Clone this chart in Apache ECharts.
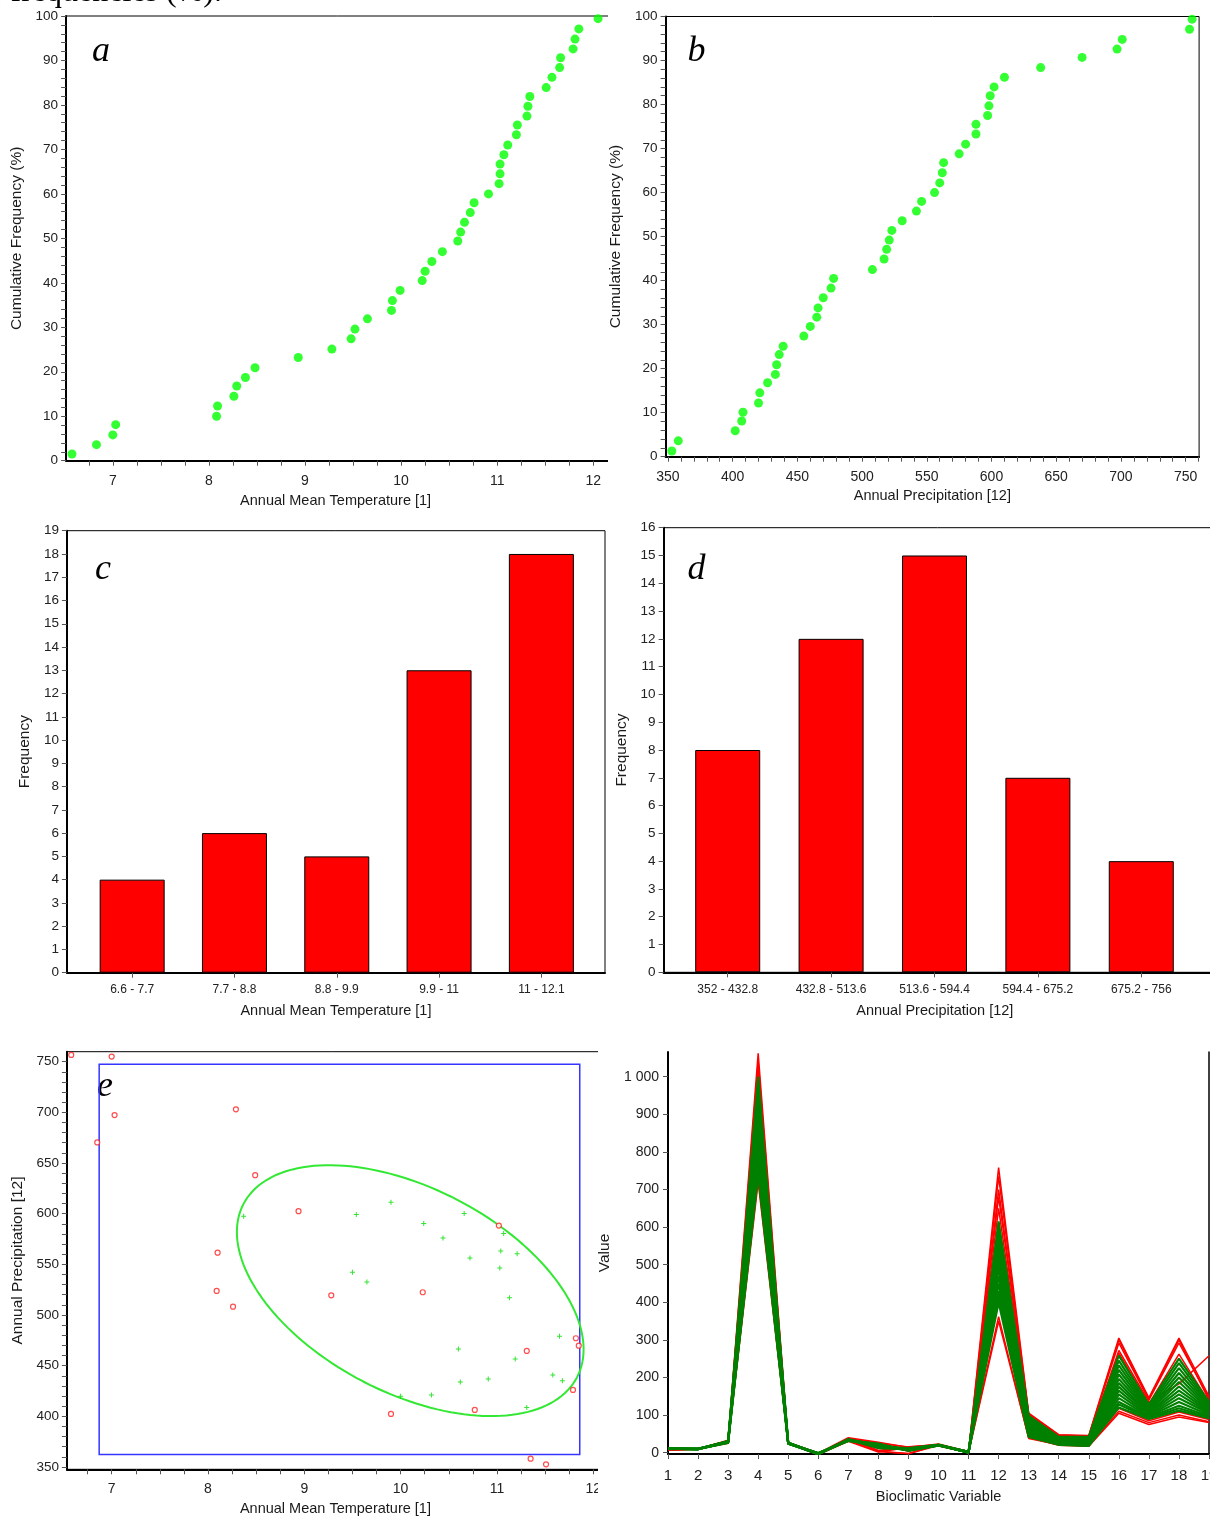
<!DOCTYPE html>
<html><head><meta charset="utf-8">
<script src="https://cdn.jsdelivr.net/npm/echarts@6/dist/echarts.min.js"></script>
<style>
html,body{margin:0;padding:0;background:#fff;}
#wrap{position:relative;width:1210px;height:1519px;overflow:hidden;background:#fff;}
.p{position:absolute;overflow:hidden;}
</style></head><body>
<div id="wrap">
<div id="pa" class="p" style="left:0;top:0;width:608px;height:512px"></div>
<div id="pb" class="p" style="left:608px;top:0;width:602px;height:512px"></div>
<div id="pc" class="p" style="left:0;top:512px;width:608px;height:510px"></div>
<div id="pd" class="p" style="left:608px;top:512px;width:602px;height:510px"></div>
<div id="pe" class="p" style="left:0;top:1022px;width:598px;height:497px"></div>
<div id="pf" class="p" style="left:598px;top:1022px;width:612px;height:497px"></div>
</div>
<script>
// ---------------- DATA ----------------
// (a) cumulative frequency of Annual Mean Temperature
const tempCum = [6.575,6.83,7.0,7.03,8.08,8.09,8.26,8.29,8.38,8.48,8.93,9.28,9.48,9.52,9.65,9.9,9.91,9.99,10.22,10.25,10.32,10.43,10.59,10.62,10.66,10.72,10.76,10.91,11.02,11.03,11.03,11.07,11.11,11.2,11.21,11.31,11.32,11.34,11.51,11.57,11.65,11.66,11.79,11.81,11.85,12.05];
const cumFreqA = [1.5,3.6,5.8,8.1,10.0,12.3,14.5,16.8,18.7,20.9,23.2,25.1,27.4,29.6,31.9,33.8,36.0,38.3,40.5,42.6,44.8,47.0,49.4,51.4,53.6,55.8,58.0,60.0,62.3,64.5,66.7,68.8,71.0,73.3,75.5,77.5,79.7,81.9,83.9,86.2,88.4,90.6,92.6,94.8,97.1,99.4];
// (b) cumulative frequency of Annual Precipitation
const precipCum = [353,358,402,407,408,420,421,427,433,434,436,439,455,460,465,466,470,476,478,508,517,519,521,523,531,542,546,556,560,562,563,575,580,588,588,597,598,599,602,610,638,670,697,701,753,755];
const cumFreqB = [1.3,3.6,5.9,8.1,10.1,12.2,14.5,16.8,18.7,20.9,23.2,25.1,27.4,29.6,31.7,33.8,36.1,38.3,40.5,42.5,44.9,47.1,49.2,51.4,53.6,55.8,58.0,60.0,62.2,64.5,66.8,68.8,71.0,73.3,75.5,77.5,79.7,82.0,84.0,86.2,88.4,90.7,92.6,94.8,97.1,99.4];
// (c) histogram temperature
const tempBins = ['6.6 - 7.7','7.7 - 8.8','8.8 - 9.9','9.9 - 11','11 - 12.1'];
const tempCounts = [4,6,5,13,18];
// (d) histogram precipitation
const precipBins = ['352 - 432.8','432.8 - 513.6','513.6 - 594.4','594.4 - 675.2','675.2 - 756'];
const precipCounts = [8,12,15,7,4];
// (e) scatter: outliers (red) and inliers (green)
const outTemp   = [6.58,7.00,7.03,6.85,8.29,8.49,8.94,8.10,11.02,8.09,8.26,9.28,10.23,9.90,10.77,11.31,11.82,11.85,11.79,11.35,11.51];
const outPrecip = [756.6,755,697.3,670.3,702.9,638,602.4,561.5,588.2,523.7,508.2,519.4,522.4,402.3,406.3,464.5,477,469.7,426,358.2,352.6];
const inTemp   = [8.37,9.54,9.90,10.24,10.44,10.66,11.07,11.04,11.21,10.72,11.03,9.50,9.65,11.13,10.60,11.65,11.19,10.62,10.91,11.58,11.68,10.00,10.32,11.31];
const inPrecip = [597.4,599.1,611.3,590.2,576,600.1,580.3,563.2,560.5,556.3,546.4,542.1,532.6,517.1,466.4,479,456.6,433.9,436.8,440.8,435.2,419.7,421,408.6];
// ellipse: [centreTemp, centrePrecip, halfRangeTemp, halfRangePrecip, phase(rad)]
const ellipseParams = [10.1, 524, 1.8, 123.8, 2.057];
// envelope box: [tempMin, precipMax, tempMax, precipMin]
const envelopeBox = [6.87, 747.4, 11.86, 362.2];
// (f) profiles over 19 bioclimatic variables
const bioVars = [1,2,3,4,5,6,7,8,9,10,11,12,13,14,15,16,17,18,19];
const greenProfiles = [
 [9.5,10,28,1000,26,-3,35,20,8,20,1,615,98,42,42,258,128,250,135],
 [10.1,10,30,970,26,-2,34,22,6,21,2,595,94,40,40,245,122,238,130],
 [10.5,10,27,945,25,-4,33,18,10,20,1,580,90,38,38,232,118,225,126],
 [11.0,9,29,920,24,-1,32,24,5,19,2,565,85,37,36,220,114,212,122],
 [10.8,10,26,900,26,-3,36,15,12,21,0,550,80,35,34,208,110,200,118],
 [11.2,9,31,880,25,-2,33,20,8,20,1,535,76,33,32,196,108,188,115],
 [9.9,10,28,860,24,-4,35,12,9,19,2,520,72,31,30,185,105,176,112],
 [11.3,10,30,840,25,-1,31,22,6,20,1,505,68,30,28,175,103,165,110],
 [11.6,9,27,820,26,-3,34,16,10,21,0,490,64,28,26,165,100,155,107],
 [10.3,10,29,800,24,-2,33,18,8,20,2,470,60,27,24,155,98,145,104],
 [11.7,10,30,785,25,-3,32,20,7,19,1,450,55,25,22,145,96,135,100],
 [10.6,9,28,770,25,-4,34,14,11,20,1,430,50,24,20,135,94,125,97],
 [11.1,10,27,755,24,-2,33,19,9,20,1,415,46,22,19,128,92,118,94],
 [10.0,10,29,740,25,-3,34,17,7,21,2,400,42,21,18,120,90,112,92]
];
const redProfiles = [
 [8,10,32,1062,27,-4,38,25,15,22,2,758,105,48,46,305,146,305,150],
 [7,10,30,1040,25,-2,36,5,16,20,1,735,102,46,44,292,140,292,145],
 [9,10,25,1015,26,-3,37,3,-3,21,3,700,100,45,40,272,135,183,258],
 [7,10,28,720,24,-5,30,2,14,18,0,350,40,20,17,105,75,95,80],
 [7,9,29,735,25,-4,33,4,-2,19,1,362,38,22,18,110,80,100,82],
 [12,10,33,1000,27,-1,40,28,14,23,3,680,103,47,44,300,143,300,140],
 [7,10,31,985,26,-3,37,6,12,20,1,650,92,40,38,265,130,262,135],
 [11.8,10,27,775,24,-5,32,24,4,21,2,425,45,22,20,118,85,108,88]
];
// tick labels
const tempTickLabels = [7,8,9,10,11,12];
const cumTickLabels = [0,10,20,30,40,50,60,70,80,90,100];
const precipTickLabels = [350,400,450,500,550,600,650,700,750];
const countTicksC = [0,1,2,3,4,5,6,7,8,9,10,11,12,13,14,15,16,17,18,19];
const countTicksD = [0,1,2,3,4,5,6,7,8,9,10,11,12,13,14,15,16];
const valueTickLabels = [0,100,200,300,400,500,600,700,800,900,1000];

// ---------------- HELPERS ----------------
const FONT = '"Liberation Sans", Arial, sans-serif';
const SERIF = '"Liberation Serif", "Times New Roman", serif';
const LBL = '#222';
function seq(a,b,s){const r=[];for(let v=a;v<=b+1e-9;v+=s)r.push(Math.round(v*1000)/1000);return r;}
function axis(o){
  return {
    type:'value', min:o.min, max:o.max, position:o.pos,
    name:o.name||'', nameLocation:'middle', nameGap:o.nameGap||30, nameRotate:o.rot||0,
    nameTextStyle:{fontFamily:FONT,fontSize:o.nameSize||14.5,color:'#1a1a1a',padding:o.namePad||0},
    axisLine:{show:true,onZero:false,lineStyle:{color:'#000',width:2}},
    axisTick:{show:true,length:o.tickLen||5,inside:false,customValues:o.ticks,lineStyle:{color:'#555',width:1}},
    axisLabel:{show:true,customValues:o.labels,formatter:o.fmt||(v=>String(v)),margin:o.margin||8,
      fontFamily:FONT,fontSize:o.fs||14,color:LBL,hideOverlap:false},
    splitLine:{show:false}, minorTick:{show:false}, minorSplitLine:{show:false}
  };
}
function grid(l,t,w,h,border){
  return {left:l,top:t,width:w,height:h,show:!!border,borderColor:'#000',borderWidth:1,
          backgroundColor:'transparent',containLabel:false,outerBoundsMode:'none'};
}
function letter(ch,x,baseline){
  return {type:'text',silent:true,style:{text:ch,x:x,y:baseline-12.6,align:'center',verticalAlign:'middle',
    font:'italic 36px '+SERIF,fill:'#000'}};
}
function make(id,opt){
  const c=echarts.init(document.getElementById(id),null,{renderer:'canvas'});
  opt.animation=false; c.setOption(opt);
}

// ---------------- (a) ----------------
make('pa',{
  grid:grid(66.1,16,546,444.7,true),
  xAxis:axis({min:6.514,max:12.196,pos:'bottom',ticks:seq(6.75,12,0.25),labels:tempTickLabels,
    name:'Annual Mean Temperature [1]',nameGap:33,namePad:[0,7,0,0],margin:13}),
  yAxis:axis({min:0,max:100,pos:'left',ticks:seq(0,100,2),labels:cumTickLabels,fs:13.5,
    name:'Cumulative Frequency (%)',rot:90,nameGap:37.6,nameSize:15.5,margin:8}),
  series:[{type:'scatter',data:tempCum.map((x,i)=>[x,cumFreqA[i]]),symbol:'circle',symbolSize:9,
    itemStyle:{color:'#00ff00'},silent:true}],
  graphic:[letter('a',101,64),
    {type:'text',silent:true,style:{text:'cumulative frequencies (%).',x:222,y:-7,align:'right',verticalAlign:'middle',
      font:'32px '+SERIF,fill:'#000'}}]
});

// ---------------- (b) ----------------
make('pb',{
  grid:grid(57.6,16.5,533.5,440.2,true),
  xAxis:axis({min:348.2,max:760.4,pos:'bottom',ticks:seq(350,760,10),labels:precipTickLabels,
    name:'Annual Precipitation [12]',nameGap:32,margin:13}),
  yAxis:axis({min:0,max:100,pos:'left',ticks:seq(0,100,2),labels:cumTickLabels,fs:13.5,
    name:'Cumulative Frequency (%)',rot:90,nameGap:37,nameSize:15.5,margin:8}),
  series:[{type:'scatter',data:precipCum.map((x,i)=>[x,cumFreqB[i]]),symbol:'circle',symbolSize:9,
    itemStyle:{color:'#00ff00'},silent:true}],
  graphic:[letter('b',696.5-608,64)]
});

// ---------------- (c) ----------------
make('pc',{
  grid:grid(66.9,18.7,538.1,442,true),
  xAxis:axis({min:0.362,max:5.622,pos:'bottom',ticks:[1,2,3,4,5],labels:[1,2,3,4,5],
    fmt:v=>tempBins[Math.round(v)-1]||'',fs:12,margin:11,
    name:'Annual Mean Temperature [1]',nameGap:30.5}),
  yAxis:axis({min:0,max:19,pos:'left',ticks:countTicksC,labels:countTicksC,fs:13.5,margin:8,
    name:'Frequency',rot:90,nameGap:27.5,nameSize:15.5}),
  series:[{type:'bar',data:tempCounts.map((v,i)=>[i+1,v]),barWidth:65,
    itemStyle:{color:'#ff0000',borderColor:'#000',borderWidth:1},silent:true}],
  graphic:[letter('c',103,581.7-512)]
});

// ---------------- (d) ----------------
make('pd',{
  grid:grid(55.6,15.7,548.4,444.6,true),
  xAxis:axis({min:0.38,max:5.684,pos:'bottom',ticks:[1,2,3,4,5],labels:[1,2,3,4,5],
    fmt:v=>precipBins[Math.round(v)-1]||'',fs:12,margin:11,
    name:'Annual Precipitation [12]',nameGap:30.9,namePad:[0,6,0,0]}),
  yAxis:axis({min:0,max:16,pos:'left',ticks:countTicksD,labels:countTicksD,fs:13.5,margin:8,
    name:'Frequency',rot:90,nameGap:29.5,nameSize:15.5}),
  series:[{type:'bar',data:precipCounts.map((v,i)=>[i+1,v]),barWidth:65,
    itemStyle:{color:'#ff0000',borderColor:'#000',borderWidth:1},silent:true}],
  graphic:[letter('d',696.5-608,581.7-512)]
});

// ---------------- (e) ----------------
const [ecx,ecy,erx,ery,eph]=ellipseParams;
const ellipsePts=[];
for(let k=0;k<=160;k++){const t=k/160*2*Math.PI;ellipsePts.push([ecx+erx*Math.cos(t),ecy+ery*Math.cos(t+eph)]);}
const plusPath='path://M2,0H3V2H5V3H3V5H2V3H0V2H2Z';
make('pe',{
  grid:grid(66.9,29.7,553.1,417.6,true),
  xAxis:axis({min:6.535,max:12.278,pos:'bottom',ticks:seq(6.75,12.25,0.25),labels:tempTickLabels,
    name:'Annual Mean Temperature [1]',nameGap:32.2,namePad:[0,16,0,0],margin:13}),
  yAxis:axis({min:347.7,max:759.8,pos:'left',ticks:seq(350,750,10),labels:precipTickLabels,fs:13.5,margin:8,
    name:'Annual Precipitation [12]',rot:90,nameGap:38.4,nameSize:15.5}),
  series:[
    {type:'line',data:ellipsePts,symbol:'none',smooth:false,lineStyle:{color:'#33e833',width:2},silent:true,z:2},
    {type:'scatter',data:inTemp.map((x,i)=>[x,inPrecip[i]]),symbol:plusPath,symbolSize:5,
      itemStyle:{color:'#00dd00'},silent:true,z:3,
      markArea:{silent:true,label:{show:false},itemStyle:{color:'rgba(0,0,0,0)',borderColor:'#3535ff',borderWidth:1.5},
        data:[[{coord:[envelopeBox[0],envelopeBox[1]]},{coord:[envelopeBox[2],envelopeBox[3]]}]]}},
    {type:'scatter',data:outTemp.map((x,i)=>[x,outPrecip[i]]),symbol:'circle',symbolSize:5,
      itemStyle:{color:'#ffffff',borderColor:'#ff2020',borderWidth:1.2},silent:true,z:4}
  ],
  graphic:[letter('e',105,1099.3-1022)]
});

// ---------------- (f) ----------------
const fSeries=[];
redProfiles.forEach(p=>fSeries.push({type:'line',data:bioVars.map((v,i)=>[v,p[i]]),symbol:'none',
  lineStyle:{color:'#ff0000',width:1.5},silent:true,z:2}));
greenProfiles.forEach(p=>fSeries.push({type:'line',data:bioVars.map((v,i)=>[v,p[i]]),symbol:'none',
  lineStyle:{color:'#008000',width:2.2},silent:true,z:3}));
const fy=axis({min:-3.5,max:1065.7,pos:'left',ticks:valueTickLabels,labels:valueTickLabels,fs:14,margin:9,
    fmt:v=>v>=1000?'1 000':String(v),name:'Value',rot:90,nameGap:53,nameSize:15.5});
make('pf',{
  grid:grid(70,30,541,402,false),
  xAxis:axis({min:1,max:19,pos:'bottom',ticks:bioVars,labels:bioVars,fs:15,margin:14,
    name:'Bioclimatic Variable',nameGap:35.8}),
  yAxis:[fy,{type:'value',min:-3.5,max:1065.7,position:'right',axisLine:{show:true,lineStyle:{color:'#000',width:1.5}},
    axisTick:{show:false},axisLabel:{show:false},splitLine:{show:false}}],
  series:fSeries,
  graphic:[letter('f',704,1099-1022)]
});
</script>
</body></html>
